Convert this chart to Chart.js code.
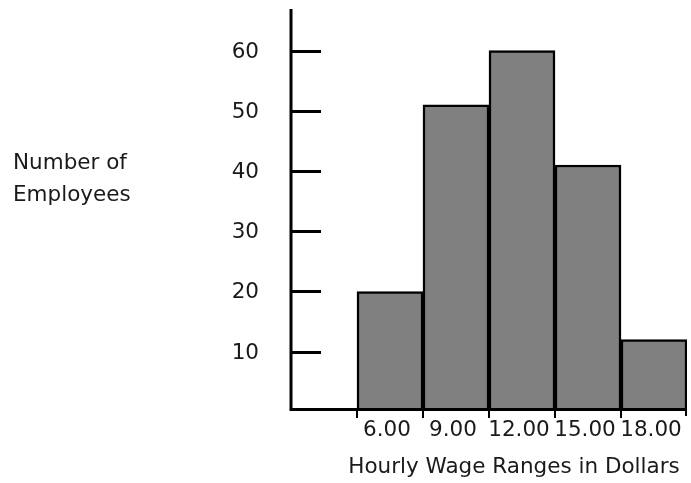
<!DOCTYPE html>
<html>
<head>
<meta charset="utf-8">
<script src="https://cdn.jsdelivr.net/npm/chart.js@4"></script>
<style>
  html, body { margin: 0; padding: 0; background: #fff; }
  #wrap { width: 691px; height: 483px; position: relative; }
</style>
</head>
<body>
<div id="wrap"><canvas id="wageChart"></canvas></div>
<script>
// first slot is left empty, as in the original histogram
const categories = ["", "6.00", "9.00", "12.00", "15.00", "18.00"];
const employees = [null, 20, 51, 60, 41, 12];
const yTicks = [10, 20, 30, 40, 50, 60];
const xTitle = "Hourly Wage Ranges in Dollars";
const yTitle = ["Number of", "Employees"];

const FONT = '21.5px "DejaVu Sans", Verdana, sans-serif';

// axes, tick marks and labels drawn by hand, positioned with the chart's scales
const axesPlugin = {
  id: "axesPlugin",
  afterDraw(chart) {
    const c = chart.ctx;
    const area = chart.chartArea;
    const x = chart.scales.x;
    const y = chart.scales.y;
    c.save();
    c.strokeStyle = "#000";
    c.fillStyle = "#1a1a1a";
    c.lineWidth = 3;
    c.lineCap = "butt";

    // axis lines
    c.beginPath();
    c.moveTo(area.left, area.top);
    c.lineTo(area.left, area.bottom + 1.5);
    c.lineTo(area.right, area.bottom + 1.5);
    c.stroke();

    // y ticks point into the plot
    c.font = FONT;
    c.textAlign = "right";
    c.textBaseline = "middle";
    yTicks.forEach((v) => {
      const py = Math.round(y.getPixelForValue(v)) + 0.5;
      c.beginPath();
      c.moveTo(area.left, py);
      c.lineTo(area.left + 30, py);
      c.stroke();
      c.fillText(String(v), 259, py + 1);
    });

    // x ticks at bin edges
    c.lineWidth = 2;
    for (let i = 1; i < categories.length; i++) {
      const half = (x.getPixelForValue(1) - x.getPixelForValue(0)) / 2;
      const edge = x.getPixelForValue(i) - half;
      c.beginPath();
      c.moveTo(edge, area.bottom);
      c.lineTo(edge, area.bottom + 10);
      c.stroke();
      c.textAlign = "center";
      c.fillText(categories[i], x.getPixelForValue(i) - 3, area.bottom + 22);
    }
    c.beginPath();
    c.moveTo(area.right - 1, area.bottom);
    c.lineTo(area.right - 1, area.bottom + 8);
    c.stroke();

    // titles
    c.textAlign = "center";
    c.fillText(xTitle, 514, 467);
    c.textAlign = "left";
    c.fillText(yTitle[0], 13, 163);
    c.fillText(yTitle[1], 13, 195);
    c.restore();
  },
};

new Chart(document.getElementById("wageChart"), {
  type: "bar",
  data: {
    labels: categories,
    datasets: [
      {
        data: employees,
        backgroundColor: "#808080",
        borderColor: "#000000",
        borderWidth: 2.5,
        barPercentage: 1.0,
        categoryPercentage: 1.0,
      },
    ],
  },
  options: {
    responsive: true,
    maintainAspectRatio: false,
    animation: false,
    layout: { padding: { left: 291, right: 4, top: 9, bottom: 75 } },
    plugins: { legend: { display: false }, tooltip: { enabled: false } },
    scales: {
      x: { display: false },
      y: { display: false, min: 0.65, max: 66.9 },
    },
  },
  plugins: [axesPlugin],
});
</script>
</body>
</html>
